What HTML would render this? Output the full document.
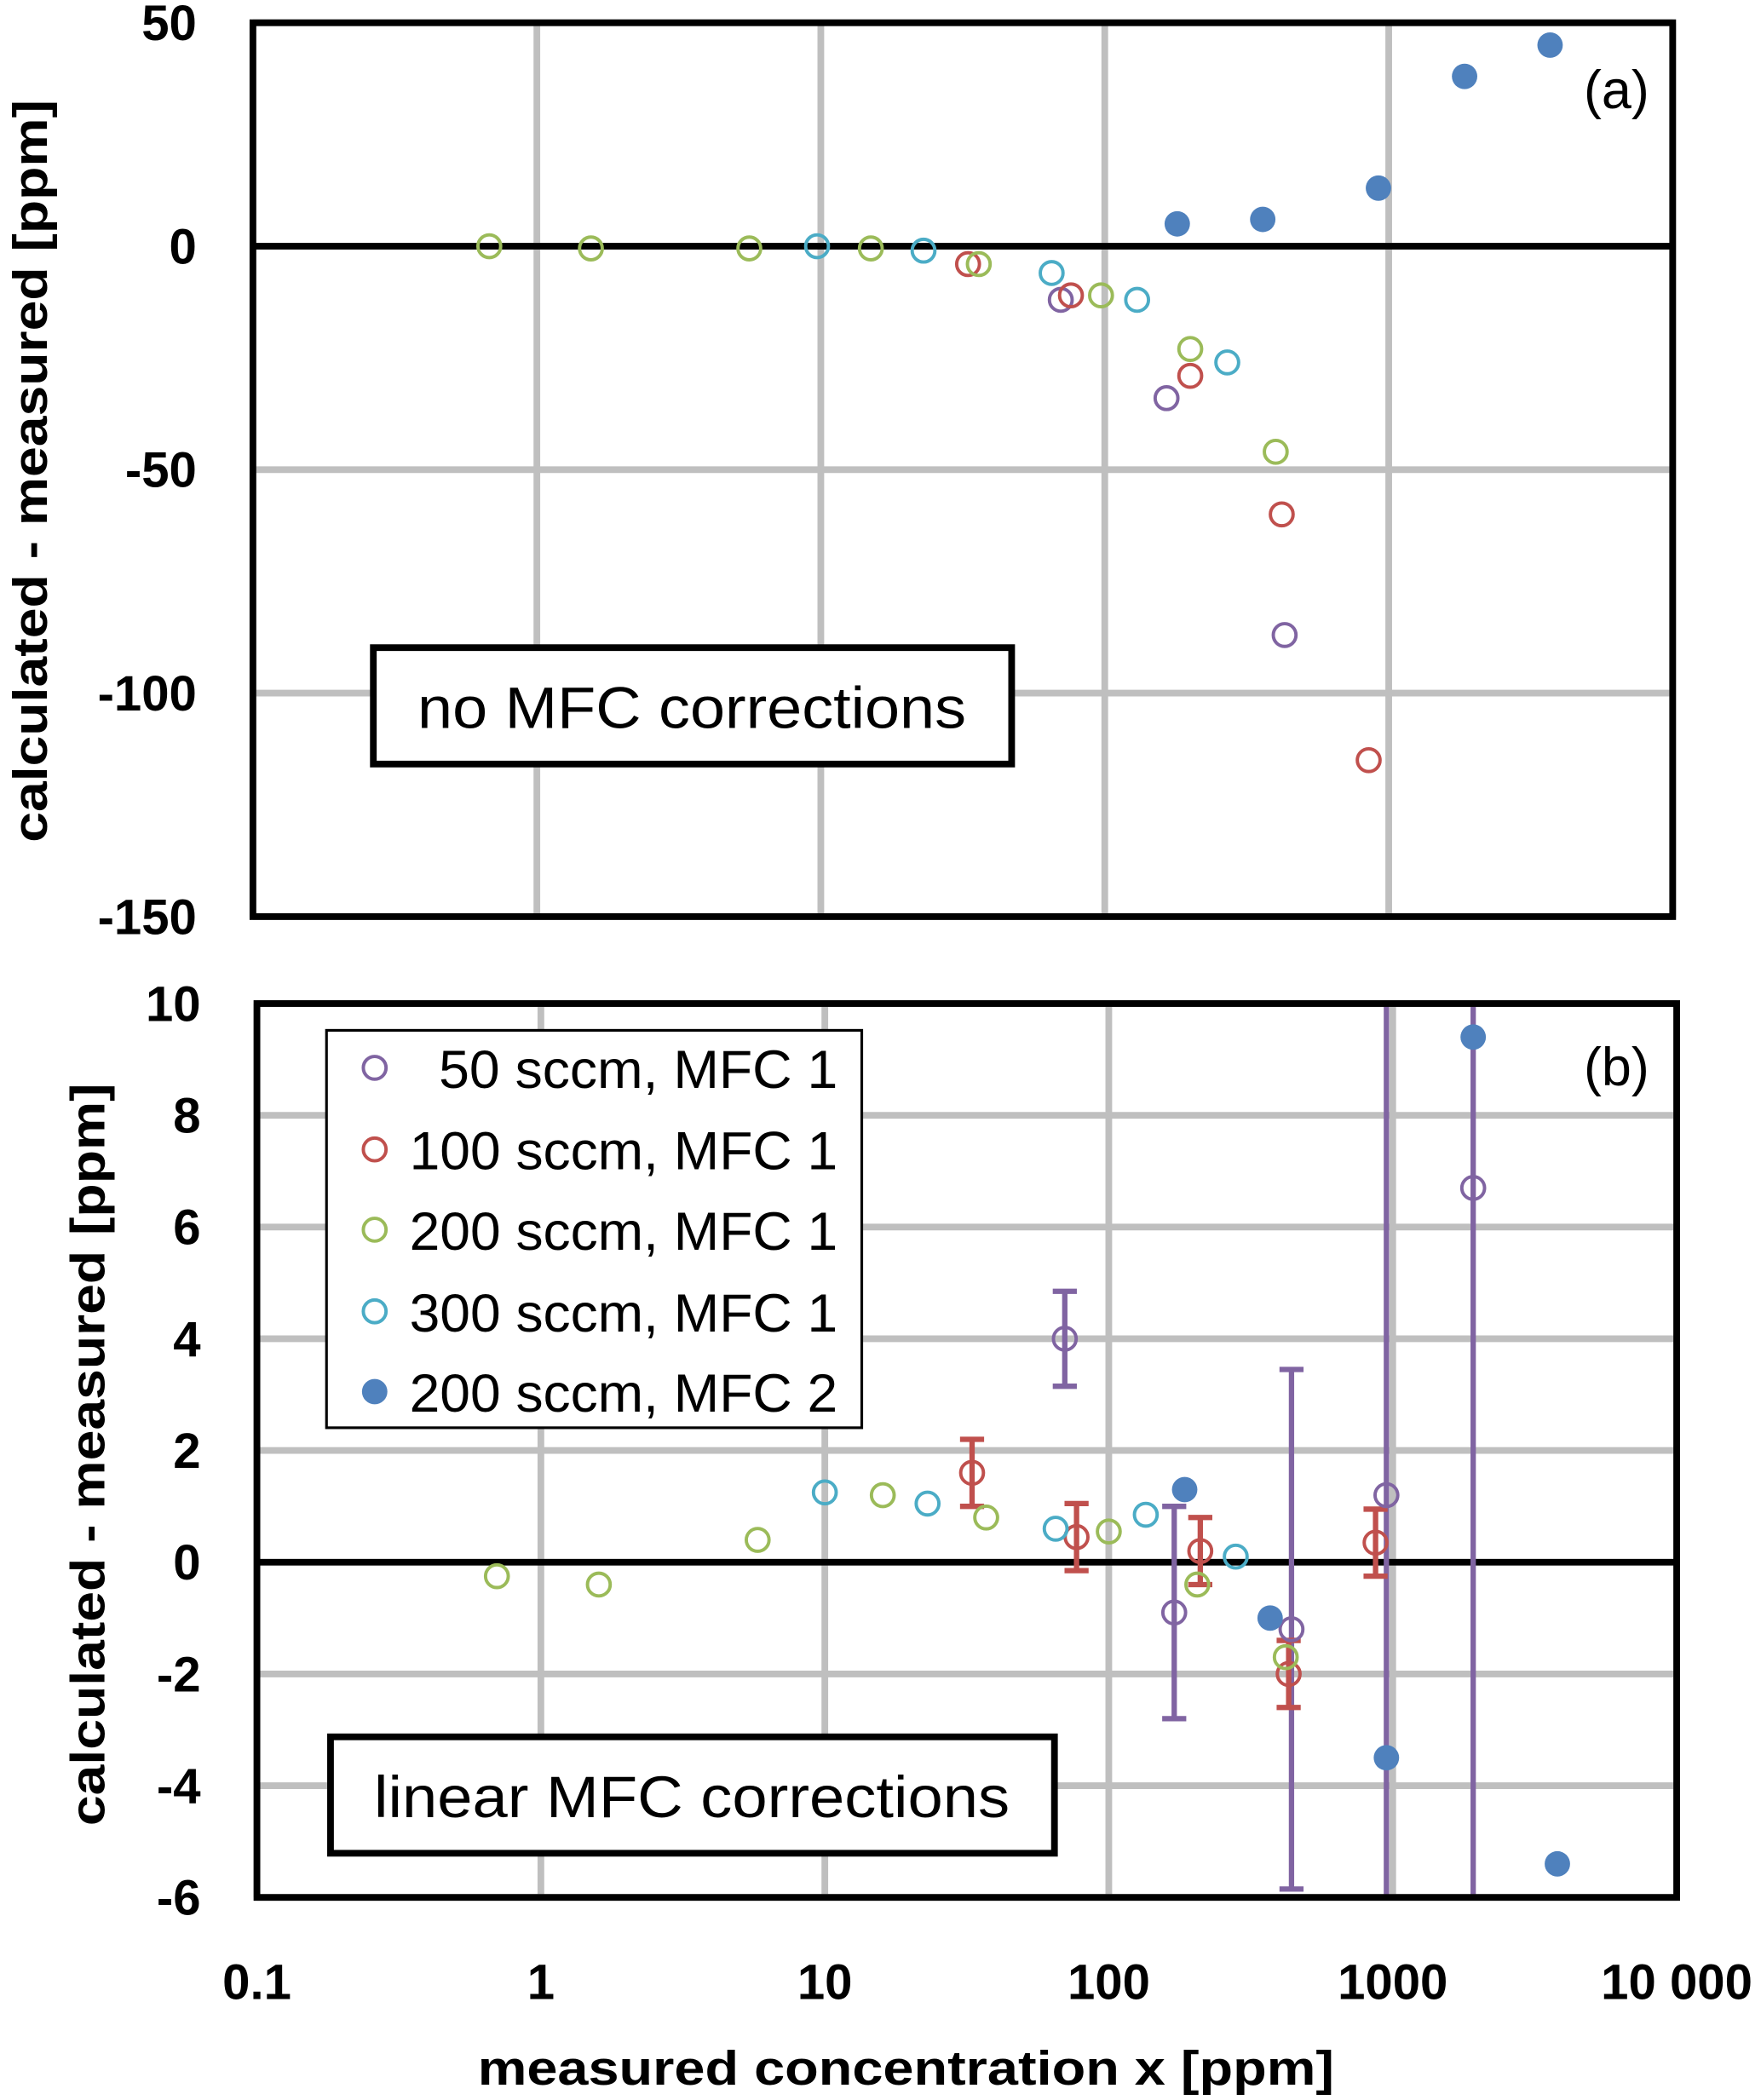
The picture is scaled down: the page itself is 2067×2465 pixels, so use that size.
<!DOCTYPE html>
<html><head><meta charset="utf-8"><style>
html,body{margin:0;padding:0;background:#fff;width:2067px;height:2465px;overflow:hidden;position:relative}
svg{display:block;position:absolute;left:0;top:0}
text{font-family:"Liberation Sans",sans-serif}
</style></head><body>
<svg id="chart" width="2067" height="2465" viewBox="0 0 1316 1569.4" preserveAspectRatio="none" xmlns="http://www.w3.org/2000/svg">
<g id="topPanel"></g>
<g id="botPanel"></g>
</svg>
<script>
// ---- Panel (a) data ----
const aPurpleX=[70,165,430], aPurpleY=[-12,-34,-87];
const aRedX=[33,76,200,420,850], aRedY=[-4,-11,-29,-60,-115];
const aGreenX=[0.68,1.55,5.6,15,36,97,200,400], aGreenY=[0,-0.5,-0.5,-0.5,-4,-11,-23,-46];
const aCyanX=[9.7,23,65,130,270], aCyanY=[0,-1,-6,-12,-26];
const aBlueX=[180,360,920,1850,3700], aBlueY=[5,6,13,38,45];
const aYTicks=[50,0,-50,-100,-150];
// ---- Panel (b) data ----
const bPurpleX=[70,170,440,950,1920], bPurpleY=[4,-0.9,-1.2,1.2,6.7], bPurpleErr=[0.85,1.9,4.65,20,20];
const bRedX=[33,77,210,430,870], bRedY=[1.6,0.45,0.2,-2.0,0.35], bRedErr=[0.6,0.6,0.6,0.6,0.6];
const bGreenX=[0.7,1.6,5.8,16,37,100,205,420], bGreenY=[-0.25,-0.4,0.4,1.2,0.8,0.55,-0.4,-1.7];
const bCyanX=[10,23,65,135,280], bCyanY=[1.25,1.05,0.6,0.85,0.1];
const bBlueX=[185,370,950,1920,3800], bBlueY=[1.3,-1.0,-3.5,9.4,-5.4];
const bYTicks=[10,8,6,4,2,0,-2,-4,-6];
const xTickVals=[0.1,1,10,100,1000,10000];
const xTickLabels=["0.1","1","10","100","1000","10 000"];

const NS="http://www.w3.org/2000/svg";
const C={purple:"#8064A2",red:"#C0504D",green:"#9BBB59",cyan:"#4BACC6",blue:"#4F81BD"};
function mk(p,t,a){const e=document.createElementNS(NS,t);for(const k in a)e.setAttribute(k,a[k]);p.appendChild(e);return e;}

function panel(g,L,R,T,B,ymin,ymax,yticks,series,errs,name){
  const sx=v=>L+(Math.log10(v)+1)/5*(R-L);
  const sy=v=>B-(v-ymin)/(ymax-ymin)*(B-T);
  xTickVals.forEach(v=>{const l=mk(g,'line',{x1:sx(v),x2:sx(v),y1:T,y2:B,stroke:'#bfbfbf','stroke-width':5});
    
    });
  yticks.forEach(v=>{const l=mk(g,'line',{x1:L,x2:R,y1:sy(v),y2:sy(v),stroke:'#bfbfbf','stroke-width':5});
    
    
    const t=mk(g,'text',{x:L-42,y:sy(v)+13,'text-anchor':'end','font-size':37,'font-weight':'bold'});t.textContent=v;
    
    });
  const z=mk(g,'line',{x1:L,x2:R,y1:sy(0),y2:sy(0),stroke:'#000','stroke-width':5});
  
  
  const clip=mk(g,'clipPath',{id:'clip'+name});mk(clip,'rect',{x:L,y:T,width:R-L,height:B-T});
  const pg=mk(g,'g',{'clip-path':'url(#clip'+name+')'});
  errs.forEach(e=>{e.x.forEach((x,i)=>{const cx=sx(x),y1=sy(e.y[i]+e.e[i]),y2=sy(e.y[i]-e.e[i]);
    const l=mk(pg,'line',{x1:cx,x2:cx,y1:y1,y2:y2,stroke:e.c,'stroke-width':4});
    
    
    [y1,y2].forEach(yy=>{const c=mk(pg,'line',{x1:cx-9,x2:cx+9,y1:yy,y2:yy,stroke:e.c,'stroke-width':4});
      
      });});});
  series.forEach(s=>{s.x.forEach((x,i)=>{const c=mk(pg,'circle',{cx:sx(x),cy:sy(s.y[i]),r:s.fill?9.5:8.5,fill:s.fill?s.c:'none',stroke:s.c,'stroke-width':s.fill?0:2.5});
    
    });});
  const f=mk(g,'rect',{x:L,y:T,width:R-L,height:B-T,fill:'none',stroke:'#000','stroke-width':5});
  
  
  return sx;
}
const gTopPanel=document.getElementById('topPanel'), gBotPanel=document.getElementById('botPanel');
panel(gTopPanel,189,1250,17,685,-150,50,aYTicks,[
 {x:aPurpleX,y:aPurpleY,c:C.purple,n:'purple-50sccm'},{x:aRedX,y:aRedY,c:C.red,n:'red-100sccm'},
 {x:aGreenX,y:aGreenY,c:C.green,n:'green-200sccm'},{x:aCyanX,y:aCyanY,c:C.cyan,n:'cyan-300sccm'},
 {x:aBlueX,y:aBlueY,c:C.blue,fill:true,n:'blue-mfc2'}],[],'a');
const sxb=panel(gBotPanel,192,1253,750,1418,-6,10,bYTicks,[
 {x:bPurpleX,y:bPurpleY,c:C.purple,n:'purple-50sccm'},{x:bRedX,y:bRedY,c:C.red,n:'red-100sccm'},
 {x:bGreenX,y:bGreenY,c:C.green,n:'green-200sccm'},{x:bCyanX,y:bCyanY,c:C.cyan,n:'cyan-300sccm'},
 {x:bBlueX,y:bBlueY,c:C.blue,fill:true,n:'blue-mfc2'}],
 [{x:bPurpleX,y:bPurpleY,e:bPurpleErr,c:C.purple},{x:bRedX,y:bRedY,e:bRedErr,c:C.red}],'b');
xTickVals.forEach((v,i)=>{const t=mk(gBotPanel,'text',{x:sxb(v),y:1494,'text-anchor':'middle','font-size':37,'font-weight':'bold'});
  t.textContent=xTickLabels[i];
  
  });
</script>
<svg width="2067" height="2465" viewBox="0 0 1316 1569.4" preserveAspectRatio="none" xmlns="http://www.w3.org/2000/svg">
<text x="1208" y="81" text-anchor="middle" font-size="40">(a)</text>
<text x="1208" y="811" text-anchor="middle" font-size="40">(b)</text>
<g>
<rect x="279" y="484" width="477" height="87" fill="#fff" stroke="#000" stroke-width="5"/>
<text x="517" y="544" text-anchor="middle" font-size="44" textLength="410" lengthAdjust="spacingAndGlyphs">no MFC corrections</text></g>
<g>
<rect x="247" y="1298" width="541" height="87" fill="#fff" stroke="#000" stroke-width="5"/>
<text x="517" y="1358" text-anchor="middle" font-size="44" textLength="475" lengthAdjust="spacingAndGlyphs">linear MFC corrections</text></g>
<g>
<rect x="244" y="770" width="400" height="297" fill="#fff" stroke="#000" stroke-width="2"/>
<g><circle cx="280" cy="798" r="8.5" fill="none" stroke="#8064A2" stroke-width="2.5"/><text x="626" y="813" text-anchor="end" font-size="40" textLength="298" lengthAdjust="spacingAndGlyphs">50 sccm, MFC 1</text></g>
<g><circle cx="280" cy="859" r="8.5" fill="none" stroke="#C0504D" stroke-width="2.5"/><text x="626" y="874" text-anchor="end" font-size="40" textLength="320" lengthAdjust="spacingAndGlyphs">100 sccm, MFC 1</text></g>
<g><circle cx="280" cy="919" r="8.5" fill="none" stroke="#9BBB59" stroke-width="2.5"/><text x="626" y="934" text-anchor="end" font-size="40" textLength="320" lengthAdjust="spacingAndGlyphs">200 sccm, MFC 1</text></g>
<g><circle cx="280" cy="980" r="8.5" fill="none" stroke="#4BACC6" stroke-width="2.5"/><text x="626" y="995" text-anchor="end" font-size="40" textLength="320" lengthAdjust="spacingAndGlyphs">300 sccm, MFC 1</text></g>
<g><circle cx="280" cy="1040" r="9.5" fill="#4F81BD"/><text x="626" y="1055" text-anchor="end" font-size="40" textLength="320" lengthAdjust="spacingAndGlyphs">200 sccm, MFC 2</text></g>
</g>
<text transform="translate(35,352) rotate(-90)" text-anchor="middle" font-size="36" font-weight="bold" textLength="555" lengthAdjust="spacingAndGlyphs">calculated - measured [ppm]</text>
<text transform="translate(78,1087) rotate(-90)" text-anchor="middle" font-size="36" font-weight="bold" textLength="555" lengthAdjust="spacingAndGlyphs">calculated - measured [ppm]</text>
<text x="677" y="1558" text-anchor="middle" font-size="36" font-weight="bold" textLength="640" lengthAdjust="spacingAndGlyphs">measured concentration x [ppm]</text>
</svg>
</body></html>
